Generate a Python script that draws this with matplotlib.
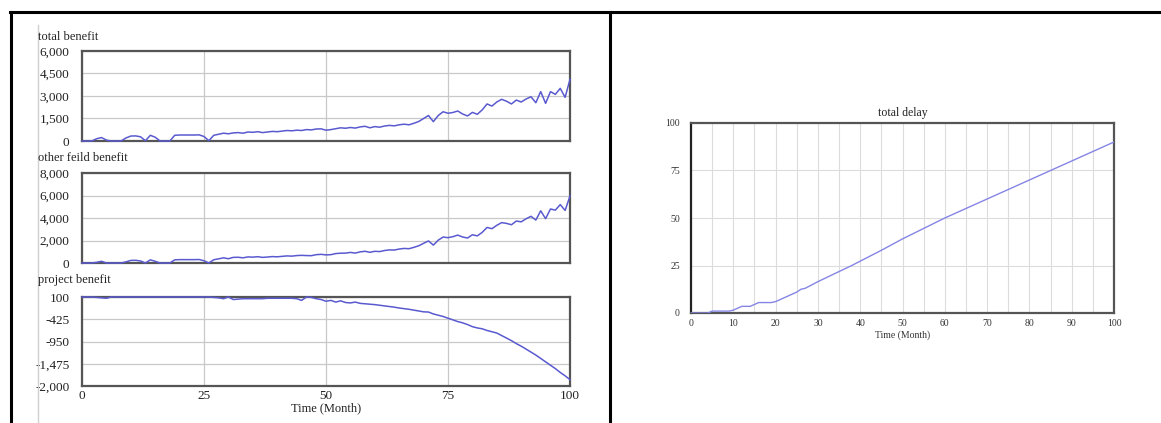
import numpy as np
import matplotlib.pyplot as plt
from matplotlib.lines import Line2D

# ==========================================
# DATOS
# ==========================================
meses = list(range(101))

total_benefit = [
    0, 0, 0, 150, 230, 60, 0, 0, 0, 200,
    330, 340, 280, 20, 380, 250, 0, 0, 0, 380,
    400, 400, 400, 400, 410, 300, 20, 380, 450, 520,
    480, 540, 560, 520, 600, 580, 620, 560, 600, 640,
    620, 660, 700, 680, 720, 700, 760, 740, 800, 810,
    720, 760, 820, 880, 850, 900, 860, 940, 980, 880,
    960, 920, 1000, 1040, 1010, 1080, 1120, 1080, 1180, 1300,
    1500, 1700, 1290, 1700, 1950, 1850, 1900, 2000, 1800, 1670,
    1910, 1780, 2070, 2470, 2330, 2600, 2780, 2650, 2470, 2730,
    2600, 2800, 2950, 2550, 3290, 2510, 3290, 3110, 3510, 2910,
    4110]

other_benefit = [
    0, 0, 0, 60, 150, 0, 0, 0, 0, 100,
    230, 240, 180, 0, 280, 150, 0, 0, 0, 280,
    300, 300, 300, 300, 310, 200, 0, 290, 370, 460,
    380, 500, 510, 460, 540, 520, 560, 500, 530, 570,
    550, 590, 630, 610, 660, 680, 660, 650, 740, 770,
    720, 740, 840, 870, 880, 940, 880, 990, 1040, 950,
    1040, 1015, 1110, 1165, 1150, 1240, 1295, 1270, 1390, 1530,
    1750, 1960, 1590, 2030, 2310, 2250, 2340, 2480, 2310, 2220,
    2510, 2410, 2720, 3160, 3050, 3350, 3590, 3520, 3400, 3730,
    3660, 3930, 4150, 3820, 4640, 3940, 4800, 4700, 5190, 4670,
    5960]

project_benefit = [
    100, 100, 100, 90, 80, 70, 100, 100, 100, 100,
    100, 100, 100, 100, 100, 100, 100, 100, 100, 100,
    100, 100, 100, 100, 100, 100, 100, 90, 80, 60,
    100, 40, 50, 60, 60, 60, 60, 60, 70, 70,
    70, 70, 70, 70, 60, 20, 100, 90, 60, 40,
    0, 20, -20, 10, -30, -40, -20, -50, -60, -70,
    -80, -95, -110, -125, -140, -160, -175, -190, -210, -230,
    -250, -255, -300, -330, -360, -400, -440, -480, -510, -550,
    -600, -630, -650, -690, -720, -750, -810, -870, -930, -1000,
    -1060, -1130, -1200, -1270, -1350, -1430, -1510, -1590, -1680, -1760,
    -1850]

delay_t = [0, 4, 5, 9, 10, 12, 14, 16, 19, 20, 25, 26, 27, 30, 38, 45, 50, 60, 70, 80, 85, 90, 100]
total_delay = [0, 0, 1, 1, 1.5, 3.5, 3.5, 5.5, 5.5, 6, 11, 12.5, 13, 16.5, 25, 33, 39, 50, 60, 70, 75, 80, 90]

paneles = [
    ("total benefit", total_benefit, [0, 1500, 3000, 4500, 6000], ["0", "1,500", "3,000", "4,500", "6,000"]),
    ("other feild benefit", other_benefit, [0, 2000, 4000, 6000, 8000], ["0", "2,000", "4,000", "6,000", "8,000"]),
    ("project benefit", project_benefit, [-2000, -1475, -950, -425, 100], ["-2,000", "-1,475", "-950", "-425", "100"]),
]

# ==========================================
# FIGURA
# ==========================================
plt.rcParams['font.family'] = ['Liberation Serif', 'DejaVu Serif']
W, H = 1161, 423
fig = plt.figure(figsize=(W / 100, H / 100), dpi=100)

def px(x, y):
    return x / W, 1 - y / H

# bordes de la tabla
for (x0, y0, x1, y1, c, lw) in [(10, 12, 1161, 12, 'black', 2.2),
                                 (11, 12, 11, 423, 'black', 2.2),
                                 (610, 12, 610, 423, 'black', 2.2),
                                 (38, 25, 38, 423, '#d0d0d0', 1.0)]:
    a, b = px(x0, y0)
    c2, d = px(x1, y1)
    fig.add_artist(Line2D([a, c2], [b, d], color=c, lw=lw))

color_linea = '#5a5ad0'
tops = [51, 173, 297]
bottoms = [141, 263, 386]
titulos_y = [37, 158, 280]

for i, (titulo, datos, ticks, etiquetas) in enumerate(paneles):
    l, b = px(82, bottoms[i])
    ax = fig.add_axes([l, b, (570 - 82) / W, (bottoms[i] - tops[i]) / H])
    ax.plot(meses, datos, color=color_linea, lw=1.1, clip_on=False, zorder=5)
    ax.set_xlim(0, 100)
    ax.set_ylim(ticks[0], ticks[-1])
    ax.set_yticks(ticks)
    ax.set_yticklabels(etiquetas, fontsize=9.5, color='#222222')
    ax.set_xticks([0, 25, 50, 75, 100])
    ax.tick_params(length=0)
    ax.tick_params(axis='y', pad=9)
    ax.tick_params(axis='x', pad=3)
    if i < 2:
        ax.set_xticklabels([])
    else:
        ax.set_xticklabels(["0", "25", "50", "75", "100"], fontsize=9.5, color='#222222')
        ax.set_xlabel("Time (Month)", fontsize=9, labelpad=0, color='#222222')
    ax.grid(True, color='#c8c8c8', lw=0.9)
    for s in ax.spines.values():
        s.set_color('#555555')
        s.set_linewidth(1.6)
    tx, ty = px(38, titulos_y[i])
    fig.text(tx, ty, titulo, fontsize=9, va='center', ha='left', color='#222222')

# grafico derecho
l, b = px(691, 313)
ax = fig.add_axes([l, b, (1114 - 691) / W, (313 - 123) / H])
ax.plot(delay_t, total_delay, color='#8585e6', lw=1.0, zorder=5)
ax.set_xlim(0, 100)
ax.set_ylim(0, 100)
ax.set_xticks(range(0, 101, 10))
ax.set_xticks(range(5, 100, 10), minor=True)
ax.set_yticks([0, 25, 50, 75, 100])
ax.tick_params(which='both', length=0, labelsize=7, colors='#333333')
ax.tick_params(axis='y', pad=8)
ax.tick_params(axis='x', pad=4)
ax.grid(True, which='both', color='#dcdcdc', lw=0.8)
for s in ax.spines.values():
    s.set_color('#555555')
    s.set_linewidth(1.6)
ax.spines['left'].set_color('#222222')
ax.set_title("total delay", fontsize=8.5, pad=5, color='#222222')
ax.set_xlabel("Time (Month)", fontsize=7, labelpad=2, color='#333333')

fig.savefig("out.png", dpi=100)
